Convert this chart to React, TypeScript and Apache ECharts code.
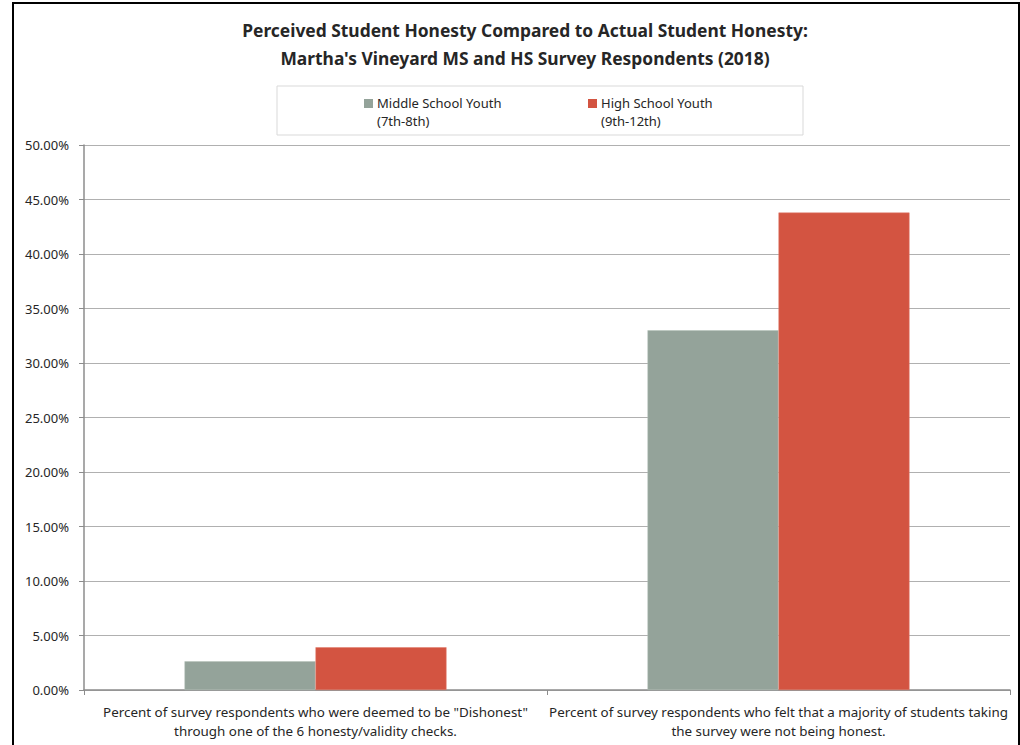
import React, { useEffect, useRef } from "react";
import * as echarts from "echarts";

const titleLines = [
  "Perceived Student Honesty Compared to Actual Student Honesty:",
  "Martha's Vineyard MS and HS Survey Respondents (2018)",
];
const categories = [
  'Percent of survey respondents who were deemed to be "Dishonest"\nthrough one of the 6 honesty/validity checks.',
  "Percent of survey respondents who felt that a majority of students taking\nthe survey were not being honest.",
];
const seriesNames = ["Middle School Youth", "High School Youth"];
const seriesSub = ["(7th-8th)", "(9th-12th)"];
const middleSchool = [0.0263, 0.3300];
const highSchool = [0.0392, 0.4380];
const colors = ["#94A39A", "#D35441"];
const yMin = 0;
const yMax = 0.5;
const yStep = 0.05;

const FONT = "'Noto Sans', 'DejaVu Sans', sans-serif";

export default function App() {
  const ref = useRef<HTMLDivElement>(null);
  useEffect(() => {
    if (!ref.current) return;
    const chart = echarts.init(ref.current, null, { renderer: "svg" });
    const legendX = [364, 588];
    chart.setOption({
      animation: false,
      backgroundColor: "#ffffff",
      textStyle: { fontFamily: FONT },
      grid: { left: 84, right: 10, top: 145, bottom: 55 },
      xAxis: {
        type: "category",
        data: categories,
        axisLine: { show: true, lineStyle: { color: "#8c8c8c", width: 1.5 } },
        axisTick: { show: true, alignWithLabel: false, length: 5, lineStyle: { color: "#8c8c8c" } },
        axisLabel: {
          interval: 0,
          fontFamily: FONT,
          fontSize: 13.4,
          color: "#262626",
          lineHeight: 18.5,
          margin: 13,
        },
      },
      yAxis: {
        type: "value",
        min: yMin,
        max: yMax,
        interval: yStep,
        axisLine: { show: true, lineStyle: { color: "#8c8c8c", width: 1.5 } },
        axisTick: { show: true, length: 5, lineStyle: { color: "#8c8c8c" } },
        splitLine: { show: true, lineStyle: { color: "#b0b0b0", width: 1 } },
        axisLabel: {
          fontFamily: FONT,
          fontSize: 13,
          color: "#262626",
          margin: 15,
          formatter: (v: number) => (v * 100).toFixed(2) + "%",
        },
      },
      series: [
        {
          name: seriesNames[0],
          type: "bar",
          data: middleSchool,
          barWidth: 131,
          barGap: "0%",
          itemStyle: { color: colors[0], borderColor: "#b5c0b9", borderWidth: 0.5 },
        },
        {
          name: seriesNames[1],
          type: "bar",
          data: highSchool,
          barWidth: 131,
          barGap: "0%",
          itemStyle: { color: colors[1], borderColor: "#e07a6a", borderWidth: 0.5 },
        },
      ],
      graphic: [
        {
          type: "rect",
          shape: { x: 13, y: 3, width: 1006, height: 760 },
          style: { fill: "none", stroke: "#000000", lineWidth: 2 },
          silent: true,
        },
        {
          type: "text",
          x: 525,
          y: 30,
          style: {
            text: titleLines[0],
            font: `bold 17.4px ${FONT}`,
            fill: "#262626",
            textAlign: "center",
            textVerticalAlign: "middle",
          },
        },
        {
          type: "text",
          x: 525,
          y: 58,
          style: {
            text: titleLines[1],
            font: `bold 17.4px ${FONT}`,
            fill: "#262626",
            textAlign: "center",
            textVerticalAlign: "middle",
          },
        },
        {
          type: "rect",
          shape: { x: 277, y: 86, width: 526, height: 49 },
          style: { fill: "#ffffff", stroke: "#d9d9d9", lineWidth: 1 },
        },
        ...seriesNames.flatMap((name, i) => [
          {
            type: "rect",
            shape: { x: legendX[i], y: 99, width: 9, height: 9 },
            style: { fill: colors[i] },
          },
          {
            type: "text",
            x: legendX[i] + 13,
            y: 103,
            style: {
              text: name,
              font: `13px ${FONT}`,
              fill: "#262626",
              textVerticalAlign: "middle",
            },
          },
          {
            type: "text",
            x: legendX[i] + 13,
            y: 121,
            style: {
              text: seriesSub[i],
              font: `13px ${FONT}`,
              fill: "#262626",
              textVerticalAlign: "middle",
            },
          },
        ]),
      ],
    });
    return () => chart.dispose();
  }, []);
  return (
    <div
      ref={ref}
      style={{ position: "absolute", left: 0, top: 0, width: 1020, height: 745 }}
    />
  );
}
